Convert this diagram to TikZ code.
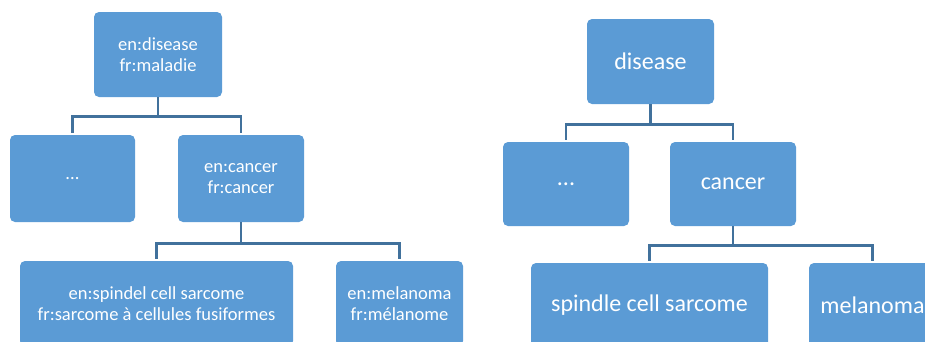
\documentclass[tikz,border=0pt]{standalone}
\usepackage{fontspec}
\setmainfont{Carlito}
\definecolor{boxblue}{HTML}{5B9BD5}
\definecolor{linkblue}{HTML}{41719C}

\begin{document}
\begin{tikzpicture}[x=1pt, y=-1pt,
    concept/.style={fill=boxblue, rounded corners=5pt, inner sep=0pt,
        text=white, align=center},
    small/.style={font=\fontsize{18.5}{21}\selectfont},
    large/.style={font=\fontsize{24}{28}\selectfont},
    link/.style={draw=linkblue, line width=2.6pt, shorten >=2pt}
    ]
    \useasboundingbox (0,0) rectangle (925,341);
    \clip (0,0) rectangle (925,341);

    % bilingual tree
    \node[concept, small, minimum width=128, minimum height=85] (ldis) at (158, 54.5) {en:disease\\fr:maladie};
    \node[concept, small, minimum width=125, minimum height=87] (ldots) at (72.5, 178.5) {...};
    \node[concept, small, minimum width=126, minimum height=87] (lcan) at (241, 178.5) {en:cancer\\fr:cancer};
    \node[concept, small, minimum width=273, minimum height=85] (lspin) at (156.5, 303.5) {en:spindel cell sarcome\\fr:sarcome à cellules fusiformes};
    \node[concept, small, minimum width=127, minimum height=85] (lmel) at (399.5, 303.5) {en:melanoma\\fr:mélanome};

    \draw[link] (ldis.south) -- ++(0,19) coordinate (lfork1) -| (ldots.north);
    \draw[link] (lfork1) -| (lcan.north);
    \draw[link] (lcan.south) -- ++(0,21) coordinate (lfork2) -| (lspin.north);
    \draw[link] (lfork2) -| (lmel.north);

    % concept tree
    \node[concept, large, minimum width=127, minimum height=85] (rdis) at (650.5, 61.5) {disease};
    \node[concept, large, minimum width=126, minimum height=84] (rdots) at (566, 184) {...};
    \node[concept, large, minimum width=126, minimum height=84] (rcan) at (733, 184) {cancer};
    \node[concept, large, minimum width=237, minimum height=84] (rspin) at (649.5, 305) {spindle cell sarcome};
    \node[concept, large, minimum width=127, minimum height=84] (rmel) at (872.5, 305) {melanoma};

    \draw[link] (rdis.south) -- ++(0,20) coordinate (rfork1) -| (rdots.north);
    \draw[link] (rfork1) -| (rcan.north);
    \draw[link] (rcan.south) -- ++(0,19) coordinate (rfork2) -| (rspin.north);
    \draw[link] (rfork2) -| (rmel.north);

\end{tikzpicture}
\end{document}
